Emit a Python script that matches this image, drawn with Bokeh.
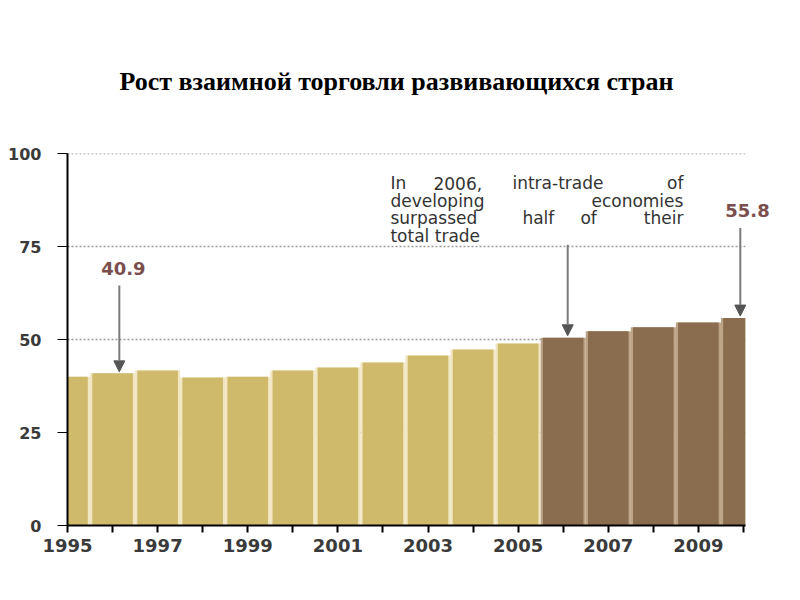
from bokeh.plotting import figure
from bokeh.models import Range1d, FixedTicker, Label, Arrow, NormalHead, ColumnDataSource
from bokeh.embed import file_html
from bokeh.resources import INLINE

# ---- data ----
years = list(range(1995, 2011))
share = [40.0, 40.9, 41.7, 39.8, 40.0, 41.7, 42.5, 43.8, 45.7, 47.3, 48.9,
         50.5, 52.2, 53.3, 54.6, 55.8]
groups = ["before"] * 11 + ["after"] * 5
y_ticks = [0, 25, 50, 75, 100]
x_labelled = [1995, 1997, 1999, 2001, 2003, 2005, 2007, 2009]

title_text = "Рост взаимной торговли развивающихся стран"
note_lines = [
    ["In", "2006,", "intra-trade", "of"],
    ["developing", "economies"],
    ["surpassed", "half", "of", "their"],
    ["total trade"],
]

# ---- styling ----
bar_color = {"before": "#cfb96b", "after": "#8a6c4f"}
gap_color = {"before": "#f1e6c2", "after": "#bca385"}

x_min, x_max = years[0], years[-1] + 0.04      # extent of the axis line
frame_end = years[-1] + 0.8                      # room for the last label

src = ColumnDataSource(dict(
    left=[max(y - 0.45, x_min) for y in years],
    right=[min(y + 0.45, x_max) for y in years],
    gl=[max(y - 0.5, x_min) for y in years],
    gr=[min(y + 0.5, x_max) for y in years],
    share=share,
    fill=[bar_color[g] for g in groups],
    gap=[gap_color[g] for g in groups],
))

p = figure(width=790, height=580, output_backend="svg", toolbar_location=None,
           x_range=Range1d(x_min, frame_end), y_range=Range1d(0, 100),
           min_border_left=67, min_border_right=11, min_border_top=153,
           min_border_bottom=55)
p.outline_line_color = None
p.background_fill_color = "white"

p.title.text = title_text
p.title.align = "left"
p.title.offset = 52
p.title.text_font = "Liberation Serif"
p.title.text_font_style = "bold"
p.title.text_font_size = "26px"
p.title.text_color = "black"
p.title.standoff = 115

# dotted grid lines, limited to the axis extent
grid_y = [t for t in y_ticks if t > 0]
p.segment(x0=[x_min] * len(grid_y), x1=[x_max] * len(grid_y), y0=grid_y, y1=grid_y,
          line_color="#9a9a9a", line_dash="2 2", line_width=1.5)

# bars: light base to create the gaps, then coloured bar
p.quad(left="gl", right="gr", bottom=0, top="share", source=src,
       fill_color="gap", line_color=None)
p.quad(left="left", right="right", bottom=0, top="share", source=src,
       fill_color="fill", line_color=None)

p.xgrid.grid_line_color = None
p.ygrid.grid_line_color = None

# y axis
p.yaxis.ticker = FixedTicker(ticks=y_ticks)
p.yaxis.axis_line_color = "black"
p.yaxis.axis_line_width = 2
p.yaxis.major_tick_out = 10
p.yaxis.major_tick_in = 0
p.yaxis.minor_tick_line_color = None
p.yaxis.major_tick_line_color = "black"
p.yaxis.major_label_standoff = 16
p.yaxis.major_label_text_font = "DejaVu Sans"
p.yaxis.major_label_text_font_style = "bold"
p.yaxis.major_label_text_font_size = "16px"
p.yaxis.major_label_text_color = "#3a3a3a"

# x axis
p.xaxis.ticker = FixedTicker(ticks=years)
p.xaxis.bounds = (x_min, x_max)
p.xaxis.major_label_overrides = {y: (str(y) if y in x_labelled else "") for y in years}
p.xaxis.axis_line_color = "black"
p.xaxis.axis_line_width = 2
p.xaxis.major_tick_out = 7
p.xaxis.major_tick_in = 0
p.xaxis.minor_tick_line_color = None
p.xaxis.major_tick_line_color = "black"
p.xaxis.major_tick_line_width = 2
p.xaxis.major_label_standoff = 6
p.xaxis.major_label_text_font = "DejaVu Sans"
p.xaxis.major_label_text_font_style = "bold"
p.xaxis.major_label_text_font_size = "18px"
p.xaxis.major_label_text_color = "#3a3a3a"

# ---- annotations ----
val_color = "#7b4e4e"
arrow_kw = dict(line_color="#7a7a7a", line_width=2)
head = lambda: NormalHead(size=11, fill_color="#555555", line_color="#555555")

i96 = years.index(1996)
i06 = years.index(2006)
i10 = years.index(2010)

p.add_layout(Label(x=1996.24, y=67.3, text=f"{share[i96]:.1f}", text_align="center",
                   text_font="DejaVu Sans", text_font_style="bold",
                   text_font_size="18px", text_color=val_color))
p.add_layout(Arrow(x_start=1996.15, y_start=64.5, x_end=1996.15, y_end=share[i96] + 0.4,
                   end=head(), **arrow_kw))

p.add_layout(Label(x=2010.09, y=83.0, text=f"{share[i10]:.1f}", text_align="center",
                   text_font="DejaVu Sans", text_font_style="bold",
                   text_font_size="18px", text_color=val_color))
p.add_layout(Arrow(x_start=2009.93, y_start=80.0, x_end=2009.93, y_end=share[i10] + 0.5,
                   end=head(), **arrow_kw))

p.add_layout(Arrow(x_start=2006.1, y_start=75.5, x_end=2006.1, y_end=share[i06] + 0.5,
                   end=head(), **arrow_kw))

# note text, laid out word by word to mimic justification
def px(xp):
    return 1995 + (xp - 67) / 45.07

line_y = [92.0, 87.3, 82.6, 77.9]
word_pos = [
    [(390, "left"), (433, "left"), (512, "left"), (683, "right")],
    [(390, "left"), (683, "right")],
    [(390, "left"), (522, "left"), (580, "left"), (683, "right")],
    [(390, "left")],
]
for words, pos, yy in zip(note_lines, word_pos, line_y):
    for w, (xp, al) in zip(words, pos):
        p.add_layout(Label(x=px(xp), y=yy, text=w, text_align=al,
                           text_baseline="alphabetic",
                           text_font="DejaVu Sans", text_font_size="17px",
                           text_color="#333333"))

open("out.html", "w").write(file_html(p, INLINE))
